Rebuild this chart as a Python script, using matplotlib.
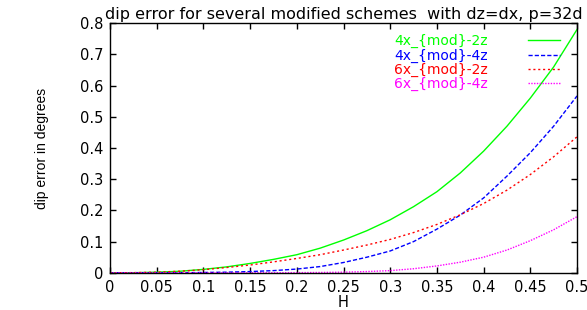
import matplotlib
matplotlib.use('Agg')
import matplotlib.pyplot as plt
from matplotlib.ticker import FormatStrFormatter, MultipleLocator

# values
H = [0, 0.025, 0.05, 0.075, 0.1, 0.125, 0.15, 0.175, 0.2, 0.225, 0.25,
     0.275, 0.3, 0.325, 0.35, 0.375, 0.4, 0.425, 0.45, 0.475, 0.5]
x4_2z = [0, 0.0003, 0.002, 0.005, 0.011, 0.019, 0.030, 0.043, 0.058, 0.079, 0.105,
         0.135, 0.17, 0.212, 0.26, 0.32, 0.39, 0.47, 0.56, 0.66, 0.78]
x4_4z = [0, 0, 0, 0.0002, 0.001, 0.002, 0.004, 0.007, 0.012, 0.02, 0.033,
         0.05, 0.07, 0.10, 0.14, 0.185, 0.24, 0.31, 0.385, 0.47, 0.567]
x6_2z = [0, 0.0005, 0.002, 0.005, 0.010, 0.017, 0.025, 0.035, 0.046, 0.058, 0.073,
         0.089, 0.107, 0.129, 0.155, 0.186, 0.222, 0.265, 0.315, 0.372, 0.436]
x6_4z = [0, 0, 0, 0, 0, 0, 0.0001, 0.0002, 0.0005, 0.001, 0.002,
         0.004, 0.007, 0.013, 0.022, 0.034, 0.05, 0.073, 0.103, 0.138, 0.18]
labels = ['4x_{mod}-2z', '4x_{mod}-4z', '6x_{mod}-2z', '6x_{mod}-4z']

plt.rcParams['font.family'] = ['DejaVu Sans']
fig = plt.figure(figsize=(5.87, 3.10), dpi=100)
ax = fig.add_axes([0.1874, 0.120, 0.7956, 0.805])

ax.plot(H, x4_2z, color='#00ff00', lw=1.0, ls='-', label=labels[0])
ax.plot(H, x4_4z, color='#0000ff', lw=1.0, ls=(0, (3, 1.5)), label=labels[1])
ax.plot(H, x6_2z, color='#ff0000', lw=1.0, ls=(0, (1.5, 2)), label=labels[2])
ax.plot(H, x6_4z, color='#ff00ff', lw=1.0, ls=(0, (1, 1)), label=labels[3])

ax.set_xlim(0, 0.5)
ax.set_ylim(0, 0.8)
ax.xaxis.set_major_locator(MultipleLocator(0.05))
ax.yaxis.set_major_locator(MultipleLocator(0.1))
ax.xaxis.set_major_formatter(FormatStrFormatter('%g'))
ax.yaxis.set_major_formatter(FormatStrFormatter('%g'))
ax.tick_params(direction='in', length=4, width=1, top=True, right=True,
               labelsize=10.5, pad=5)
for s in ax.spines.values():
    s.set_linewidth(1.0)

ax.set_title('dip error for several modified schemes  with dz=dx, p=32d',
             fontsize=11.5, pad=3)
ax.set_xlabel('H', fontsize=10.5, labelpad=0)
ax.set_ylabel('dip error in degrees', fontsize=10, family='Liberation Sans',
              labelpad=22)

ax.legend(loc='upper right', bbox_to_anchor=(0.975, 0.978), frameon=False,
          markerfirst=False, labelcolor='linecolor', fontsize=10,
          handlelength=2.3, handletextpad=2.9, labelspacing=0.0,
          borderaxespad=0)

fig.savefig('out.png', dpi=100)
